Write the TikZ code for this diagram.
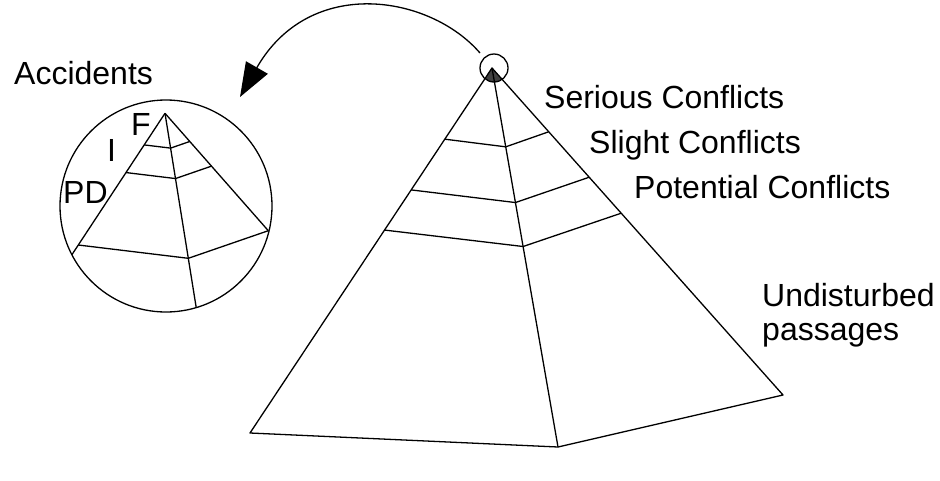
\documentclass[tikz,border=0pt]{standalone}
\usepackage{fontspec}
\setmainfont{Liberation Sans}
\usetikzlibrary{arrows.meta,calc}
\begin{document}
\begin{tikzpicture}[x=1pt,y=-1pt, line join=round,
  lbl/.style={anchor=base west, inner sep=0pt, font=\fontsize{32}{34}\selectfont},
  edgeline/.style={draw=black, line width=1.3pt},
  tipfill/.style={fill=black!75}]
\useasboundingbox (0,0) rectangle (940,480);
% ---------- big pyramid ----------
\coordinate (A)  at (492,68);
\coordinate (BL) at (250,433);
\coordinate (BB) at (558,447);
\coordinate (BR) at (783,395);
% dark tip inside the small circle
\coordinate (sc) at (494,68);
\begin{scope}
  \clip (sc) circle (14);
  \fill[tipfill] (A) -- ($(A)!0.1!(BL)$) -- ($(A)!0.1!(BB)$) -- ($(A)!0.1!(BR)$) -- cycle;
\end{scope}
\draw[edgeline] (A) -- (BL) -- (BB) -- (BR) -- cycle;
\draw[edgeline] (A) -- (BB);
\foreach \tl/\tm in {0.195/0.208, 0.334/0.355, 0.444/0.471}{
  \draw[edgeline] ($(A)!\tl!(BL)$) -- ($(A)!\tm!(BB)$) -- ($(A)!\tl!(BR)$);
}
\draw[edgeline] (sc) circle (14);
% ---------- curved arrow ----------
\coordinate (arrS) at (480,53);
\coordinate (arrE) at (240,97);
\draw[edgeline, -{Triangle[length=34pt,width=25pt]}]
  (arrS) .. controls (430,-5) and (310,-25) .. (arrE);
% ---------- magnified pyramid ----------
\coordinate (C) at (166,206);
\coordinate (a)  at (165,113.3);
\coordinate (bl) at (78.3,245);
\coordinate (bm) at (188.3,258.3);
\coordinate (br) at (268.3,230.7);
\begin{scope}
  \clip (C) circle (106);
  \draw[edgeline] (a) -- ($(a)!1.5!(bl)$);
  \draw[edgeline] (a) -- ($(a)!1.5!(bm)$);
\end{scope}
\draw[edgeline] (a) -- (br);
\draw[edgeline] (bl) -- (bm) -- (br);
\foreach \t in {0.24, 0.45}{
  \draw[edgeline] ($(a)!\t!(bl)$) -- ($(a)!\t!(bm)$) -- ($(a)!\t!(br)$);
}
\draw[edgeline] (C) circle (106);
% ---------- labels ----------
\node[lbl] (acc) at (14,84) {Accidents};
\node[lbl] (f)   at (131,135) {F};
\node[lbl] (i)   at (107,161) {I};
\node[lbl] (pd)  at (63,203) {PD};
\node[lbl] (ser) at (544,108) {Serious Conflicts};
\node[lbl] (sli) at (589,153) {Slight Conflicts};
\node[lbl] (pot) at (634,198) {Potential Conflicts};
\node[lbl] (und) at (762,306) {Undisturbed};
\node[lbl] (pas) at (762,340) {passages};
\end{tikzpicture}
\end{document}
